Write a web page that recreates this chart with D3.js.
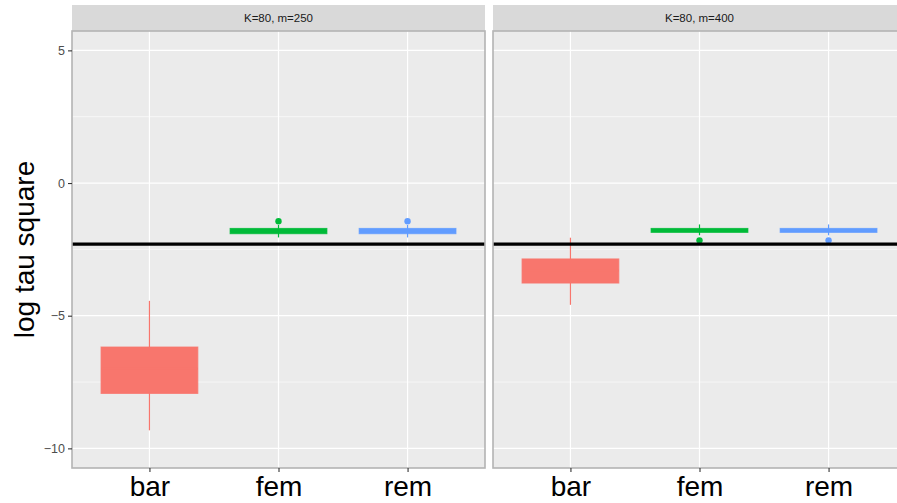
<!DOCTYPE html>
<html>
<head>
<meta charset="utf-8">
<script src="https://cdn.jsdelivr.net/npm/d3@7"></script>
<style>
  body { margin: 0; background: #fff; }
  svg { display: block; font-family: "Liberation Sans", Arial, sans-serif; }
</style>
</head>
<body>
<div id="chart"></div>
<script>
// Data
const panels = ["K=80, m=250", "K=80, m=400"];
const categories = ["bar", "fem", "rem"];
const colors = ["#F8766D", "#00BA38", "#619CFF"];
const yTicks = [-10, -5, 0, 5];
const yMinor = [-7.5, -2.5, 2.5];
const trueValue = Math.log(0.1); // black reference line

// box stats per panel, in category order: [lower whisker, q1, median, q3, upper whisker]
const boxes250 = [
  [-9.32, -7.93, -7.0, -6.18, -4.44],
  [-2.05, -1.91, -1.81, -1.71, -1.58],
  [-2.05, -1.91, -1.81, -1.71, -1.58]
];
const boxes400 = [
  [-4.59, -3.77, -3.3, -2.86, -2.06],
  [-1.97, -1.86, -1.78, -1.71, -1.56],
  [-1.97, -1.86, -1.78, -1.71, -1.56]
];
const outliers250 = [[], [-1.44], [-1.44]];
const outliers400 = [[], [-2.16], [-2.16]];
const panelBoxes = [boxes250, boxes400];
const panelOutliers = [outliers250, outliers400];

// Layout
const width = 897;
const height = 503;
const panelLeft = 72;
const panelWidth = 413;
const panelGap = 8;
const stripTop = 5;
const stripHeight = 26;
const panelTop = stripTop + stripHeight;
const panelBottom = 468;

const y = d3.scaleLinear([-10.74, 5.73], [panelBottom, panelTop]);

const svg = d3.select("#chart").append("svg")
  .attr("width", width)
  .attr("height", height);

panels.forEach((label, p) => {
  const x0 = panelLeft + p * (panelWidth + panelGap);
  const x = d3.scalePoint(categories, [x0, x0 + panelWidth]).padding(0.6);
  const step = x.step();
  const g = svg.append("g");

  // strip
  g.append("rect")
    .attr("x", x0).attr("y", stripTop)
    .attr("width", panelWidth).attr("height", stripHeight)
    .attr("fill", "#D9D9D9");
  g.append("text")
    .attr("x", x0 + panelWidth / 2)
    .attr("y", stripTop + stripHeight / 2)
    .attr("dy", "0.35em")
    .attr("text-anchor", "middle")
    .attr("font-size", 11.5)
    .attr("fill", "#1A1A1A")
    .text(label);

  // panel background
  g.append("rect")
    .attr("x", x0).attr("y", panelTop)
    .attr("width", panelWidth).attr("height", panelBottom - panelTop)
    .attr("fill", "#EBEBEB");

  // grid
  g.selectAll(".minor").data(yMinor).join("line")
    .attr("x1", x0).attr("x2", x0 + panelWidth)
    .attr("y1", d => y(d)).attr("y2", d => y(d))
    .attr("stroke", "#fff").attr("stroke-width", 0.6);
  g.selectAll(".major").data(yTicks).join("line")
    .attr("x1", x0).attr("x2", x0 + panelWidth)
    .attr("y1", d => y(d)).attr("y2", d => y(d))
    .attr("stroke", "#fff").attr("stroke-width", 1.2);
  g.selectAll(".vgrid").data(categories).join("line")
    .attr("x1", d => x(d)).attr("x2", d => x(d))
    .attr("y1", panelTop).attr("y2", panelBottom)
    .attr("stroke", "#fff").attr("stroke-width", 1.2);

  // boxplots
  const boxW = step * 0.75;
  const stats = panelBoxes[p];
  const bx = g.selectAll(".box").data(categories).join("g");
  bx.append("line")
    .attr("x1", d => x(d)).attr("x2", d => x(d))
    .attr("y1", (d, i) => y(stats[i][0])).attr("y2", (d, i) => y(stats[i][4]))
    .attr("stroke", (d, i) => colors[i]).attr("stroke-width", 1.2);
  bx.append("rect")
    .attr("x", d => x(d) - boxW / 2)
    .attr("width", boxW)
    .attr("y", (d, i) => y(stats[i][3]))
    .attr("height", (d, i) => y(stats[i][1]) - y(stats[i][3]))
    .attr("fill", (d, i) => colors[i])
    .attr("stroke", (d, i) => colors[i])
    .attr("stroke-opacity", 0.8)
    .attr("stroke-width", 1);
  bx.append("line")
    .attr("x1", d => x(d) - boxW / 2).attr("x2", d => x(d) + boxW / 2)
    .attr("y1", (d, i) => y(stats[i][2])).attr("y2", (d, i) => y(stats[i][2]))
    .attr("stroke", (d, i) => colors[i]).attr("stroke-width", 2);
  bx.each(function(d, i) {
    d3.select(this).selectAll("circle").data(panelOutliers[p][i]).join("circle")
      .attr("cx", x(d)).attr("cy", v => y(v)).attr("r", 3.2)
      .attr("fill", colors[i]);
  });

  // reference line
  g.append("line")
    .attr("x1", x0).attr("x2", x0 + panelWidth)
    .attr("y1", y(trueValue)).attr("y2", y(trueValue))
    .attr("stroke", "#000").attr("stroke-width", 3.2);

  // border
  g.append("rect")
    .attr("x", x0).attr("y", panelTop)
    .attr("width", panelWidth).attr("height", panelBottom - panelTop)
    .attr("fill", "none").attr("stroke", "#B3B3B3").attr("stroke-width", 1.6);

  // x axis
  const xAxis = g.append("g").attr("transform", `translate(0,${panelBottom})`)
    .call(d3.axisBottom(x).tickSize(4).tickSizeOuter(0).tickPadding(4));
  xAxis.select(".domain").remove();
  xAxis.selectAll("line").attr("stroke", "#333").attr("stroke-width", 1.1);
  xAxis.selectAll("text")
    .attr("font-family", "'Liberation Sans', Arial, sans-serif")
    .attr("font-size", 28).attr("fill", "#000");
});

// y axis
const yAxis = svg.append("g").attr("transform", `translate(${panelLeft},0)`)
  .call(d3.axisLeft(y).tickValues(yTicks).tickSize(4).tickPadding(3)
    .tickFormat(d => d < 0 ? "\u2212" + Math.abs(d) : d));
yAxis.select(".domain").remove();
yAxis.selectAll("line").attr("stroke", "#333").attr("stroke-width", 1.1);
yAxis.selectAll("text")
  .attr("font-family", "'Liberation Sans', Arial, sans-serif")
  .attr("font-size", 12.5).attr("fill", "#4D4D4D");

svg.append("text")
  .attr("transform", `translate(34,${(panelTop + panelBottom) / 2}) rotate(-90)`)
  .attr("text-anchor", "middle")
  .attr("font-size", 28)
  .attr("fill", "#000")
  .text("log tau square");
</script>
</body>
</html>
